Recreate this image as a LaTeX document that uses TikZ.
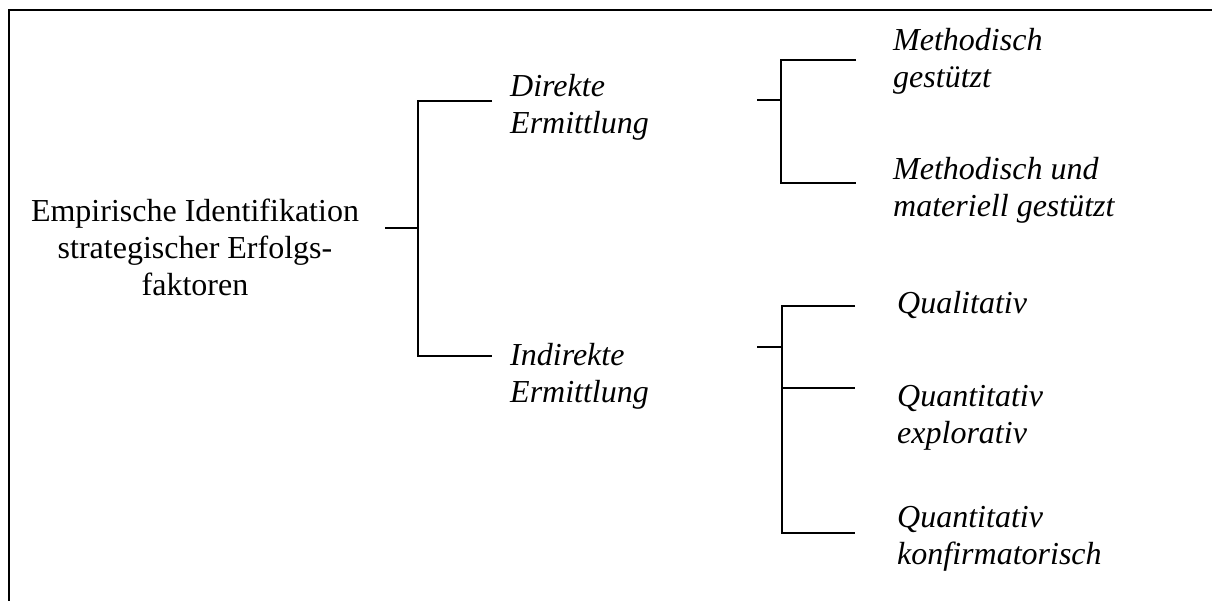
\documentclass[tikz,border=0pt]{standalone}
\usepackage{fontspec}
\setmainfont{Liberation Serif}
\usepackage{tikz}

\newcommand{\bigfont}{\fontsize{32}{37}\selectfont}
\newcommand{\leftlines}[1]{\begin{tabular}[t]{@{}l@{}}#1\end{tabular}}
\newcommand{\midlines}[1]{\begin{tabular}[t]{@{}c@{}}#1\end{tabular}}

\tikzset{
    branch/.style={inner sep=0pt, anchor=base west, font=\bigfont\itshape},
    arm/.style={line width=1.6pt},
}

\begin{document}
\begin{tikzpicture}[x=1pt, y=-1pt, font=\bigfont]
    \useasboundingbox (0,0) rectangle (1212,601);

    % Frame
    \draw[line width=2pt] (1212,10) -- (9,10) -- (9,601);

    % Root
    \node[inner sep=0pt, anchor=base] (root) at (195,222)
        {\midlines{Empirische Identifikation\\strategischer Erfolgs-\\faktoren}};

    % First level
    \node[branch] (direkt) at (510,97) {\leftlines{Direkte\\Ermittlung}};
    \node[branch] (indirekt) at (510,365) {\leftlines{Indirekte\\Ermittlung}};

    % Second level, direct
    \node[branch] (meth) at (893,51) {\leftlines{Methodisch\\gestützt}};
    \node[branch] (methmat) at (893,180) {\leftlines{Methodisch und\\materiell gestützt}};

    % Second level, indirect
    \node[branch] (quali) at (897,314) {Qualitativ};
    \node[branch] (explo) at (897,406) {\leftlines{Quantitativ\\explorativ}};
    \node[branch] (konfi) at (897,527) {\leftlines{Quantitativ\\konfirmatorisch}};

    % Bracket from the root
    \coordinate (root-out) at (385,228);
    \coordinate (root-j) at (418,228);
    \coordinate (direkt-in) at (492,101);
    \coordinate (indirekt-in) at (492,356);
    \draw[arm] (root-out) -- (root-j);
    \draw[arm] (direkt-in) -- (root-j |- direkt-in) -- (root-j |- indirekt-in) -- (indirekt-in);

    % Bracket from direct
    \coordinate (direkt-out) at (757,100);
    \coordinate (direkt-j) at (781,100);
    \coordinate (meth-in) at (856,60);
    \coordinate (methmat-in) at (856,183);
    \draw[arm] (direkt-out) -- (direkt-j);
    \draw[arm] (meth-in) -- (direkt-j |- meth-in) -- (direkt-j |- methmat-in) -- (methmat-in);

    % Bracket from indirect
    \coordinate (indirekt-out) at (757,347);
    \coordinate (indirekt-j) at (782,347);
    \coordinate (quali-in) at (855,306);
    \coordinate (explo-in) at (855,388);
    \coordinate (konfi-in) at (855,533);
    \draw[arm] (indirekt-out) -- (indirekt-j);
    \draw[arm] (quali-in) -- (indirekt-j |- quali-in) -- (indirekt-j |- konfi-in) -- (konfi-in);
    \draw[arm] (indirekt-j |- explo-in) -- (explo-in);
\end{tikzpicture}
\end{document}
